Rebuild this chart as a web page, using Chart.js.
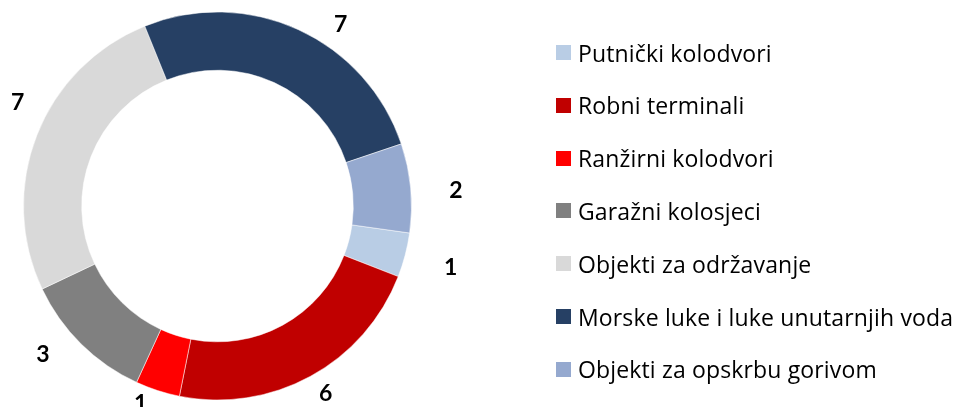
<!DOCTYPE html>
<html lang="hr">
<head>
<meta charset="utf-8">
<title>Objekti</title>
<script src="https://cdn.jsdelivr.net/npm/chart.js@4/dist/chart.umd.min.js"></script>
<style>
    html, body { margin: 0; padding: 0; background: #fff; overflow: hidden; }
    .wrap { position: relative; width: 954px; height: 407px; overflow: hidden; }
    #chart { position: absolute; left: 0; top: 0; }
    .legend { position: absolute; left: 556px; top: 0; margin: 0; padding: 0; list-style: none; }
    .legend li {
        position: absolute; left: 0; display: flex; align-items: center;
        height: 15px; white-space: nowrap;
        font-family: "Open Sans", Lato, sans-serif; font-size: 23px; letter-spacing: 0.15px; color: #000;
    }
    .legend .box { width: 15px; height: 15px; margin-right: 7px; flex: none; }
</style>
</head>
<body>
<div class="wrap">
    <canvas id="chart" width="954" height="407"></canvas>
    <ul class="legend" id="legend"></ul>
</div>
<script>
// Categories, in drawing order (clockwise)
const categories = [
    'Putnički kolodvori',
    'Robni terminali',
    'Ranžirni kolodvori',
    'Garažni kolosjeci',
    'Objekti za održavanje',
    'Morske luke i luke unutarnjih voda',
    'Objekti za opskrbu gorivom'
];
const counts = [1, 6, 1, 3, 7, 7, 2];
const colors = ['#B9CDE5', '#C00000', '#FF0000', '#808080', '#D9D9D9', '#264064', '#95A9CF'];

// Value label placement: angle tweak (deg) and distance as a share of the outer radius
const labelTurn = [0, -1.4, 3.3, 5.2, 6.2, 9.4, 1.3];
const labelDist = [1.243, 1.113, 1.09, 1.177, 1.162, 1.133, 1.232];

// Draws the numbers outside the ring
const valueLabels = {
    id: 'valueLabels',
    afterDatasetsDraw(chart) {
        const { ctx } = chart;
        const meta = chart.getDatasetMeta(0);
        ctx.save();
        ctx.font = 'bold 23px Lato, "Open Sans", sans-serif';
        ctx.fillStyle = '#000';
        ctx.textAlign = 'center';
        ctx.textBaseline = 'middle';
        meta.data.forEach((arc, i) => {
            const { startAngle, endAngle, x, y, outerRadius } = arc.getProps(['startAngle', 'endAngle', 'x', 'y', 'outerRadius'], true);
            const mid = (startAngle + endAngle) / 2 + labelTurn[i] * Math.PI / 180;
            const r = outerRadius * labelDist[i];
            ctx.fillText(String(counts[i]), x + Math.cos(mid) * r, y + Math.sin(mid) * r + 1);
        });
        ctx.restore();
    }
};

const chart = new Chart(document.getElementById('chart'), {
    type: 'doughnut',
    data: {
        labels: categories,
        datasets: [{
            data: counts,
            backgroundColor: colors,
            borderColor: 'rgba(255,255,255,0.5)',
            borderWidth: 1,
            hoverOffset: 0
        }]
    },
    options: {
        responsive: false,
        animation: false,
        events: [],
        rotation: 98,
        cutout: '70%',
        layout: { padding: { left: 23, top: 11.5, bottom: 6.5, right: 542 } },
        plugins: {
            legend: { display: false },
            tooltip: { enabled: false }
        }
    },
    plugins: [valueLabels]
});

// Legend list on the right
const legendEl = document.getElementById('legend');
categories.forEach((name, i) => {
    const li = document.createElement('li');
    li.style.top = (45 + i * 52.83) + 'px';
    li.innerHTML = `<span class="box" style="background:${colors[i]}"></span><span>${name}</span>`;
    legendEl.appendChild(li);
});
</script>
</body>
</html>
